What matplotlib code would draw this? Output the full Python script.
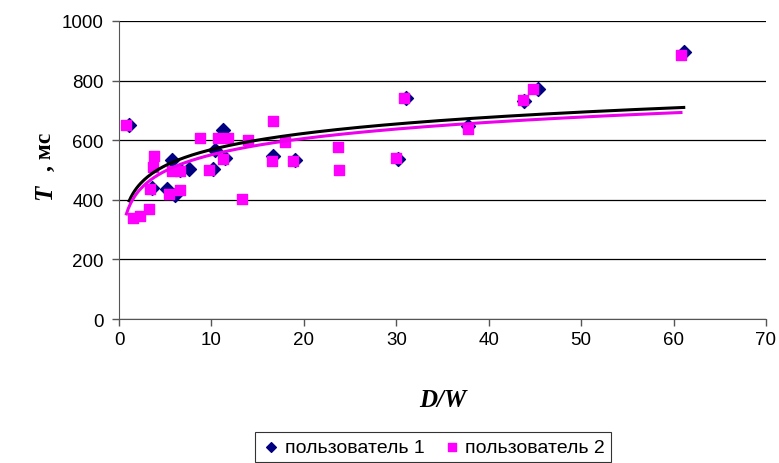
import matplotlib
matplotlib.use("Agg")
import matplotlib.pyplot as plt
import numpy as np

# user 1 (diamonds)
x_user1 = [1.1, 3.6, 5.2, 5.7, 6.1, 6.6, 7.6, 10.2, 10.4, 11.3, 11.5, 16.7, 19.0, 30.2, 31.0, 37.8, 43.8, 45.3, 61.1]
t_user1 = [652, 440, 436, 535, 415, 500, 503, 503, 568, 635, 540, 548, 533, 538, 742, 648, 730, 772, 896]

# user 2 (squares)
x_user2 = [0.8, 1.5, 2.3, 3.2, 3.4, 3.7, 3.8, 5.4, 5.7, 6.6, 6.6, 8.8, 9.7, 10.7, 11.3, 11.8,
           13.3, 14.0, 16.6, 16.7, 18.0, 18.8, 23.7, 23.8, 30.0, 30.8, 37.8, 43.7, 44.8, 60.8]
t_user2 = [650, 340, 346, 369, 436, 510, 547, 419, 497, 497, 433, 607, 500, 607, 537, 607,
           404, 602, 530, 665, 595, 530, 577, 500, 540, 740, 638, 735, 772, 886]

legend_labels = ["пользователь 1", "пользователь 2"]

plt.rcParams['font.family'] = ['Liberation Sans', 'DejaVu Sans']

fig = plt.figure(figsize=(7.79, 4.64), dpi=100)
ax = fig.add_axes([0.1528, 0.3103, 0.8305, 0.6423])


def log_trend(x, y):
    # logarithmic trendline as in the spreadsheet
    a, b = np.polyfit(np.log(x), y, 1)
    xs = np.linspace(min(x), max(x), 300)
    return xs, a * np.log(xs) + b


ax.scatter(x_user1, t_user1, marker='D', s=50, color='#000080', zorder=3, label=legend_labels[0])
ax.scatter(x_user2, t_user2, marker='s', s=60, color='#FF00FF', zorder=4, label=legend_labels[1])

xs, ys = log_trend(x_user1, t_user1)
ax.plot(xs, ys, color='black', lw=2.2, zorder=5)
xs, ys = log_trend(x_user2, t_user2)
ax.plot(xs, ys, color='#EE00EE', lw=2.2, zorder=5)

ax.set_xlim(0, 70)
ax.set_ylim(0, 1000)
ax.set_xticks(range(0, 71, 10))
ax.set_yticks(range(0, 1001, 200))
ax.yaxis.grid(True, color='black', lw=0.9)
ax.set_axisbelow(True)
for s in ['top', 'right']:
    ax.spines[s].set_visible(False)
for s in ['left', 'bottom']:
    ax.spines[s].set_color('#555555')
ax.tick_params(labelsize=13.5, color='#555555', length=5, width=1)
ax.tick_params(axis='y', pad=6)

ax.set_xlabel("D/W", fontsize=18, fontweight='bold', fontstyle='italic',
              family='Liberation Serif', labelpad=29)
fig.text(0.058, 0.585, "T", rotation=90, fontsize=18, fontweight='bold', fontstyle='italic',
         family='Liberation Serif', ha='center', va='center')
fig.text(0.058, 0.672, ", мс", rotation=90, fontsize=17, fontweight='bold',
         family='Liberation Serif', ha='center', va='center')

leg = fig.legend(loc='lower center', bbox_to_anchor=(0.556, -0.018), ncol=2, fontsize=14,
                 frameon=True, fancybox=False, edgecolor='black', handletextpad=0.2,
                 columnspacing=0.9, borderpad=0.3, handlelength=1.0, markerscale=0.7)
leg.get_frame().set_linewidth(0.8)

fig.savefig("out.png", dpi=100)
